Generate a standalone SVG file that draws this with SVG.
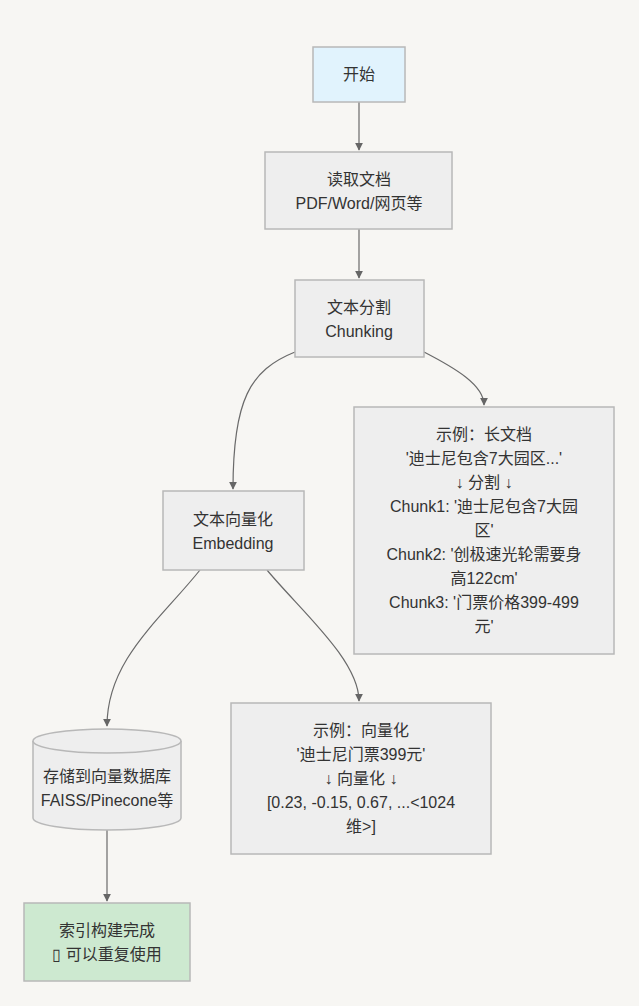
<svg xmlns="http://www.w3.org/2000/svg" width="639" height="1006" viewBox="0 0 639 1006">
<style>
text{font-family:"Liberation Sans","Noto Sans CJK SC",sans-serif;font-size:16px;fill:#333;text-anchor:middle}
.n{fill:#eeeeee;stroke:#b8b8b8;stroke-width:1.5}
.e{fill:none;stroke:#6a6a6a;stroke-width:1.2}
</style>
<defs>
<marker id="ah" viewBox="0 0 10 10" refX="9" refY="5" markerWidth="8" markerHeight="8" markerUnits="userSpaceOnUse" orient="auto">
<path d="M0,0L10,5L0,10z" fill="#666"/>
</marker>
</defs>
<rect width="639" height="1006" fill="#f7f6f3"/>
<g id="connectors">
<path class="e" d="M359,102V150" marker-end="url(#ah)"/>
<path class="e" d="M359,229V278" marker-end="url(#ah)"/>
<path class="e" d="M295,352C250,370 233,400 233,489" marker-end="url(#ah)"/>
<path class="e" d="M424,352C455,368 484,385 484,405" marker-end="url(#ah)"/>
<path class="e" d="M200,570C160,620 107,660 107,726" marker-end="url(#ah)"/>
<path class="e" d="M267,570C300,610 359,660 359,701" marker-end="url(#ah)"/>
<path class="e" d="M107,830V901" marker-end="url(#ah)"/>
</g>
<g id="start">
<rect x="313" y="47" width="92" height="55" fill="#e1f3fd" stroke="#b8b8b8" stroke-width="1.5"/>
<text x="359" y="80">开始</text>
</g>
<g id="read">
<rect class="n" x="265" y="152" width="187" height="77"/>
<text x="359" y="185">读取文档</text>
<text x="359" y="209">PDF/Word/网页等</text>
</g>
<g id="chunk">
<rect class="n" x="295" y="280" width="129" height="77"/>
<text x="359" y="313">文本分割</text>
<text x="359" y="337">Chunking</text>
</g>
<g id="example1">
<rect class="n" x="354" y="407" width="260" height="247"/>
<text x="484" y="440">示例：长文档</text>
<text x="484" y="464">'迪士尼包含7大园区...'</text>
<text x="484" y="488">↓ 分割 ↓</text>
<text x="484" y="512">Chunk1: '迪士尼包含7大园</text>
<text x="484" y="536">区'</text>
<text x="484" y="560">Chunk2: '创极速光轮需要身</text>
<text x="484" y="584">高122cm'</text>
<text x="484" y="608">Chunk3: '门票价格399-499</text>
<text x="484" y="632">元'</text>
</g>
<g id="embed">
<rect class="n" x="163" y="491" width="141" height="79"/>
<text x="233" y="525">文本向量化</text>
<text x="233" y="549">Embedding</text>
</g>
<g id="store">
<path class="n" d="M33,741A74,12 0 0 1 181,741V818A74,12 0 0 1 33,818Z"/>
<path class="n" fill="none" d="M33,741A74,12 0 0 0 181,741"/>
<text x="107" y="782">存储到向量数据库</text>
<text x="107" y="806">FAISS/Pinecone等</text>
</g>
<g id="example2">
<rect class="n" x="231" y="703" width="260" height="151"/>
<text x="361" y="736">示例：向量化</text>
<text x="361" y="760">'迪士尼门票399元'</text>
<text x="361" y="784">↓ 向量化 ↓</text>
<text x="361" y="808">[0.23, -0.15, 0.67, ...&lt;1024</text>
<text x="361" y="832">维&gt;]</text>
</g>
<g id="done">
<rect x="24" y="903" width="166" height="78" fill="#cde9d0" stroke="#b8b8b8" stroke-width="1.5"/>
<text x="107" y="936">索引构建完成</text>
<text x="107" y="960">▯ 可以重复使用</text>
</g>
</svg>
